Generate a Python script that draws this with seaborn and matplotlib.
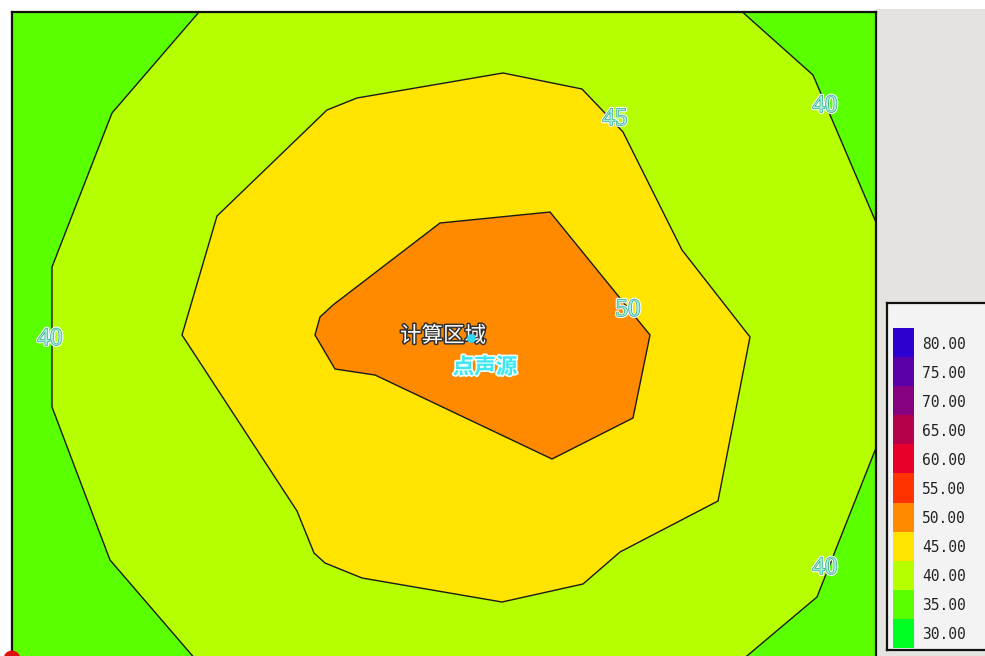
import matplotlib
matplotlib.use("Agg")
import matplotlib.pyplot as plt
import matplotlib.patheffects as pe
from matplotlib.colors import ListedColormap
from matplotlib.patches import Rectangle
import numpy as np
import pandas as pd
import seaborn as sns

# ---------------- data ----------------
levels = [30, 35, 40, 45, 50, 55, 60, 65, 70, 75, 80]
level_colors = ['#00ff22', '#5aff00', '#b6ff00', '#ffe400', '#ff8a00', '#ff3300',
                '#e8002a', '#b8004a', '#860080', '#5a00a8', '#2c00d0']

# iso-lines (map units, x to the right, y downward)
c40_x = [206, 100, 40, 40, 98, 203, 704, 805, 862, 880, 880, 863, 801, 708]
c40_y = [-22, 101, 255, 395, 548, 670, 670, 585, 441, 396, 250, 208, 63, -20]

c45_x = [315, 345, 491, 570, 611, 670, 738, 706, 608, 571, 490, 350, 313, 302, 285, 170, 205]
c45_y = [98, 86, 61, 77, 120, 238, 325, 489, 540, 572, 590, 566, 551, 541, 499, 323, 204]

c50_x = [428, 538, 638, 621, 540, 363, 323, 303, 308, 321]
c50_y = [211, 200, 323, 406, 447, 363, 357, 323, 305, 293]

label_text = ['40', '40', '40', '45', '50']
label_x = [813, 38, 813, 603, 616]
label_y = [94, 327, 556, 107, 298]

area_name = '计算区域'
area_xy = (431, 324)
source_name = '点声源'
source_label_xy = (473, 355)
source_xy = (459, 326)
corner_marker_xy = (0, 647)

# ---------------- style ----------------
sns.set_theme(style="white")
plt.rcParams['font.family'] = ['Noto Sans CJK SC', 'DejaVu Sans']

W, H = 985, 656
fig = plt.figure(figsize=(W / 100, H / 100), dpi=100, facecolor='white')
fig.add_artist(Rectangle((876 / W, 0), (W - 876) / W, (H - 9) / H,
                         transform=fig.transFigure, facecolor='#e4e3df',
                         edgecolor='none', zorder=-10))

ax = fig.add_axes([12 / W, -12 / H, 864 / W, 656 / H])
col = dict(zip(levels, level_colors))
ax.set_facecolor(col[35])
ax.fill(c40_x, c40_y, facecolor=col[40], edgecolor='#1a1a1a', lw=1.0)
ax.fill(c45_x, c45_y, facecolor=col[45], edgecolor='#1a1a1a', lw=1.0)
ax.fill(c50_x, c50_y, facecolor=col[50], edgecolor='#1a1a1a', lw=1.0)
ax.set_xlim(0, 864)
ax.set_ylim(656, 0)
ax.set_xticks([])
ax.set_yticks([])
for s in ax.spines.values():
    s.set_color('#111111')
    s.set_linewidth(1.6)

num_fx = [pe.Stroke(linewidth=2.6, foreground='white'),
          pe.Stroke(linewidth=1.0, foreground='#2fa888'), pe.Normal()]
for t, x, y in zip(label_text, label_x, label_y):
    ax.text(x, y, t, fontsize=18, family=['Liberation Serif', 'DejaVu Serif'],
            color='#a8eedb', ha='center', va='center', path_effects=num_fx)

ax.text(*area_xy, area_name, fontsize=15.5, color='white', ha='center', va='center',
        path_effects=[pe.Stroke(linewidth=2.2, foreground='#333333'), pe.Normal()])
ax.text(*source_label_xy, source_name, fontsize=15.5, color='#3ee6ef', weight='bold',
        ha='center', va='center',
        path_effects=[pe.Stroke(linewidth=2.5, foreground='#e8ffff'), pe.Normal()])
ax.scatter([source_xy[0]], [source_xy[1]], s=28, color='#30d8f0', zorder=5)
ax.scatter([corner_marker_xy[0]], [corner_marker_xy[1]], s=150, color='#e01010',
           edgecolor='none', zorder=6, clip_on=False)

# ---------------- legend ----------------
lax = fig.add_axes([887 / W, 6 / H, 130 / W, 347 / H])
lax.set_facecolor('#f3f3f3')
lax.set_xticks([])
lax.set_yticks([])
for s in lax.spines.values():
    s.set_color('#111111')
    s.set_linewidth(1.6)

hax = fig.add_axes([893 / W, 8 / H, 21 / W, 320 / H])
leg_df = pd.DataFrame({'level': levels[::-1]}, index=[f'{v:.2f}' for v in levels[::-1]])
sns.heatmap(leg_df, ax=hax, cmap=ListedColormap(level_colors), vmin=27.5, vmax=82.5,
            cbar=False, xticklabels=False, yticklabels=True, linewidths=0)
hax.yaxis.tick_right()
hax.tick_params(axis='y', length=0, pad=6, labelsize=10.5, labelrotation=0)
for lbl in hax.get_yticklabels():
    lbl.set_fontfamily(['DejaVu Sans Mono'])
    lbl.set_color('#222222')
hax.set_ylabel('')

fig.savefig('out.png', dpi=100, facecolor=fig.get_facecolor())
